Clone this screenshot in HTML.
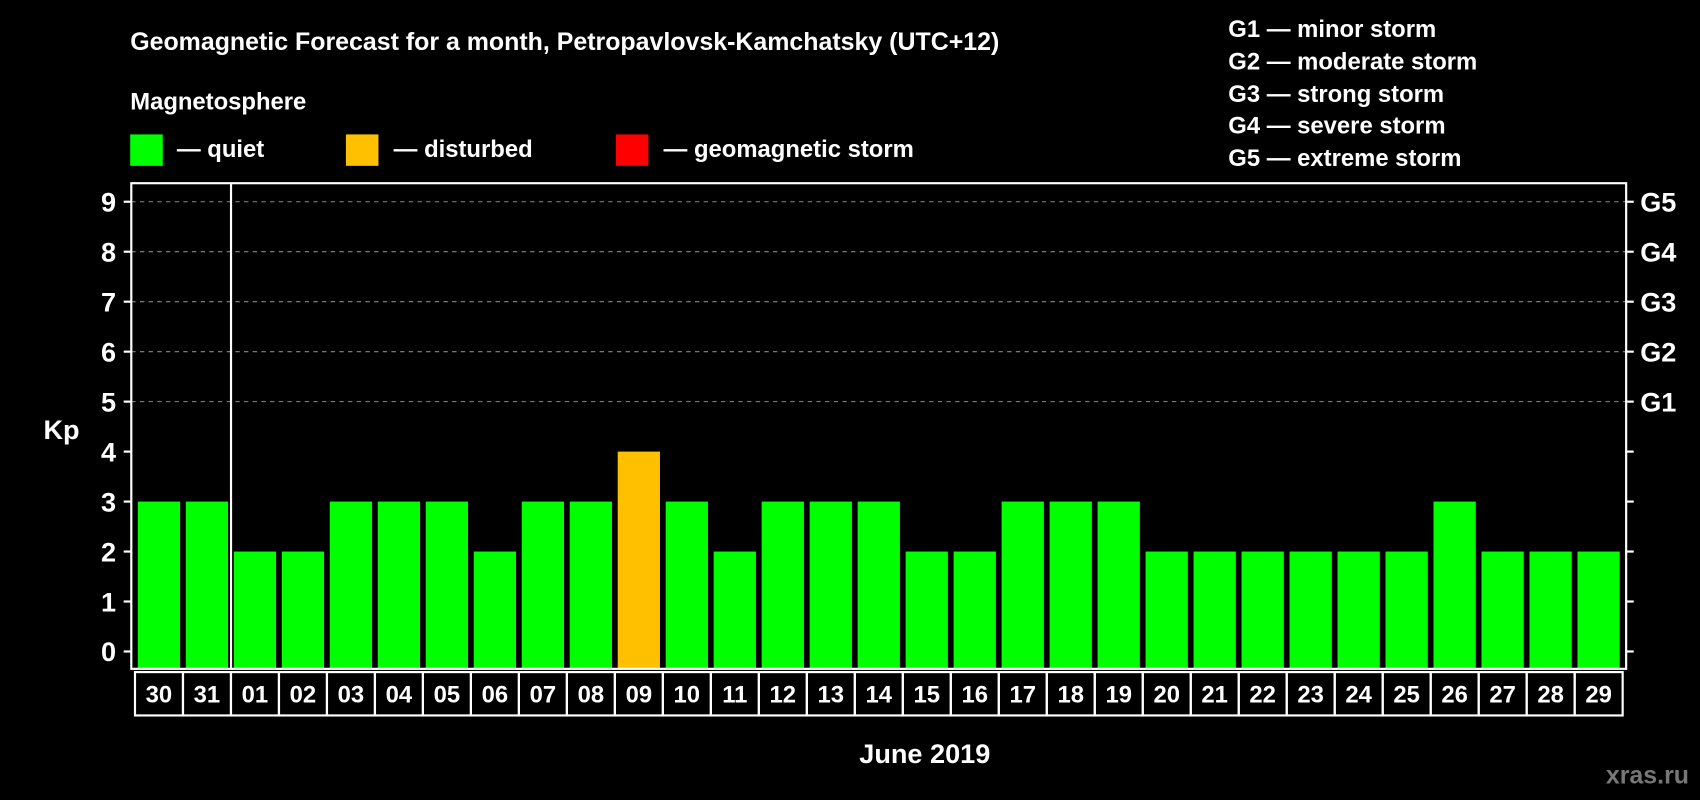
<!DOCTYPE html>
<html><head><meta charset="utf-8"><style>
html,body{margin:0;padding:0;background:#000;width:1700px;height:800px;overflow:hidden}
svg{display:block;font-family:"Liberation Sans",Arial,sans-serif;font-weight:bold}
</style></head><body>
<svg id="chart" width="1700" height="800" viewBox="0 0 1568 738">
<rect width="1568" height="738" fill="#000"/>
<text x="120" y="46" fill="#fff" font-size="23">Geomagnetic Forecast for a month, Petropavlovsk-Kamchatsky (UTC+12)</text>
<text x="120" y="101" fill="#fff" font-size="22">Magnetosphere</text>
<g><rect x="120" y="124" width="30" height="29" fill="#00ff00"/><text x="163" y="145" fill="#fff" font-size="22">— quiet</text></g>
<g><rect x="319" y="124" width="30" height="29" fill="#ffc000"/><text x="363" y="145" fill="#fff" font-size="22">— disturbed</text></g>
<g><rect x="568" y="124" width="30" height="29" fill="#ff0000"/><text x="612" y="145" fill="#fff" font-size="22">— geomagnetic storm</text></g>
<g fill="#fff" font-size="22">
<text x="1133" y="34">G1 — minor storm</text>
<text x="1133" y="64">G2 — moderate storm</text>
<text x="1133" y="94">G3 — strong storm</text>
<text x="1133" y="123">G4 — severe storm</text>
<text x="1133" y="153">G5 — extreme storm</text>
</g>
<text x="40" y="405" fill="#fff" font-size="25">Kp</text>
<text x="853" y="704" fill="#fff" font-size="25" text-anchor="middle">June 2019</text>
<text x="1558" y="723" fill="#777" font-size="23" text-anchor="end">xras.ru</text>
<g id="plot"></g>
</svg>
<script>
const days=["30","31","01","02","03","04","05","06","07","08","09","10","11","12","13","14","15","16","17","18","19","20","21","22","23","24","25","26","27","28","29"];
const kp=[3,3,2,2,3,3,3,2,3,3,4,3,2,3,3,3,2,2,3,3,3,2,2,2,2,2,2,3,2,2,2];
const yTicks=[0,1,2,3,4,5,6,7,8,9];
const gLabels=["G1","G2","G3","G4","G5"];
const gLevels=[5,6,7,8,9];
const NS="http://www.w3.org/2000/svg";
const g=document.getElementById('plot');
const L=121,R=1500,T=169,B=617;
const y=v=>601-v*46.1;
const cx=i=>146.5+i*44.27;
function mk(t,a){const e=document.createElementNS(NS,t);for(const k in a)e.setAttribute(k,a[k]);g.appendChild(e);return e;}
gLevels.forEach(v=>{const e=mk('line',{x1:L,x2:R,y1:y(v),y2:y(v),stroke:'#888','stroke-dasharray':'4,4','stroke-width':1});

});
kp.forEach((v,i)=>{const col=v>=5?'#ff0000':(v>=4?'#ffc000':'#00ff00');
const e=mk('rect',{x:cx(i)-19.5,y:y(v),width:39,height:B-y(v),fill:col});


const c=mk('rect',{x:cx(i)-22.1,y:620,width:44.27,height:40,fill:'none',stroke:'#fff','stroke-width':2});


const t=mk('text',{x:cx(i),y:648,fill:'#fff','font-size':22,'text-anchor':'middle'});t.textContent=days[i];

});
const f=mk('rect',{x:L,y:T,width:R-L,height:B-T,fill:'none',stroke:'#fff','stroke-width':2});


const sep=mk('line',{x1:213,x2:213,y1:T,y2:B,stroke:'#fff','stroke-width':2});


yTicks.forEach(v=>{const a=mk('line',{x1:114,x2:L,y1:y(v),y2:y(v),stroke:'#fff','stroke-width':2});


const b=mk('line',{x1:R,x2:1507,y1:y(v),y2:y(v),stroke:'#fff','stroke-width':2});


const t=mk('text',{x:107,y:y(v)+9,fill:'#fff','font-size':25,'text-anchor':'end'});t.textContent=v;

});
gLevels.forEach((v,i)=>{const t=mk('text',{x:1513,y:y(v)+9,fill:'#fff','font-size':25});t.textContent=gLabels[i];

});
</script>
</body></html>
